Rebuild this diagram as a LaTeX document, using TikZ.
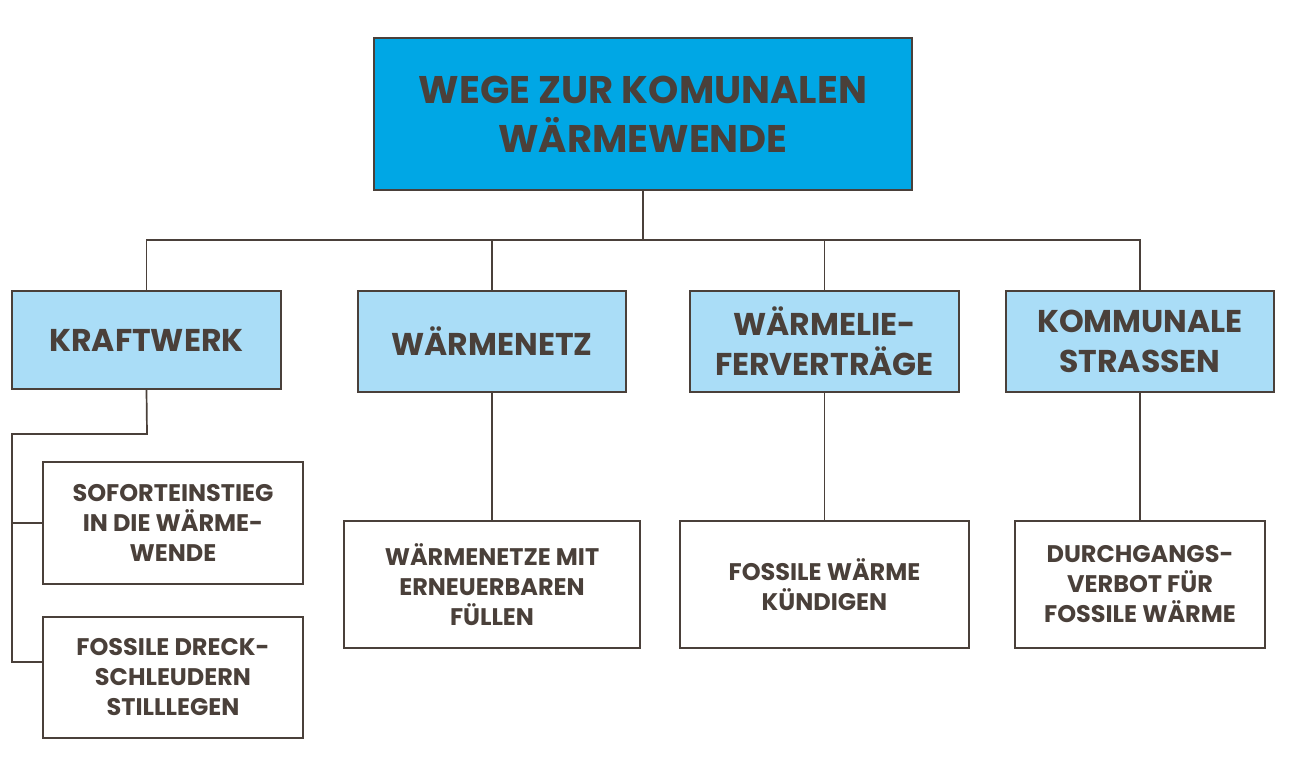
\documentclass[tikz,border=0pt]{standalone}
\usepackage{fontspec}
\setmainfont{Poppins}
\definecolor{ink}{HTML}{4A403A}
\definecolor{topblue}{HTML}{00A7E5}
\definecolor{lightblue}{HTML}{AADDF7}
\begin{document}
\begin{tikzpicture}[x=1pt,y=-1pt,
  box/.style={draw=ink,line width=1.7pt,text=ink,align=center,inner sep=0pt},
  topbox/.style={box,fill=topblue,font=\bfseries\fontsize{38.5}{49}\selectfont},
  midbox/.style={box,fill=lightblue,font=\bfseries\fontsize{31.5}{40}\selectfont},
  leafbox/.style={box,fill=white,font=\bfseries\fontsize{24}{30}\selectfont},
  conn/.style={draw=ink,line width=1.7pt}]
\useasboundingbox (0,0) rectangle (1290,757);
\node[topbox,minimum width=538pt,minimum height=152pt] (top) at (643,114) {WEGE ZUR KOMUNALEN\\WÄRMEWENDE};
\node[midbox,minimum width=269pt,minimum height=98pt] (kw) at (146.5,340) {KRAFTWERK};
\node[midbox,minimum width=268pt,minimum height=101pt] (wn) at (492,341.5) {WÄRMENETZ};
\node[midbox,minimum width=269pt,minimum height=101pt] (wl) at (824.5,341.5) {WÄRMELIE-\\FERVERTRÄGE};
\node[midbox,minimum width=268pt,minimum height=101pt] (ks) at (1140,341.5) {KOMMUNALE\\STRASSEN};
\node[leafbox,minimum width=260pt,minimum height=122pt] (so) at (173,523) {SOFORTEINSTIEG\\IN DIE WÄRME-\\WENDE};
\node[leafbox,minimum width=260pt,minimum height=121pt] (fd) at (173,677.5) {FOSSILE DRECK-\\SCHLEUDERN\\STILLLEGEN};
\node[leafbox,minimum width=296pt,minimum height=127pt] (we) at (492,584.5) {WÄRMENETZE MIT\\ERNEUERBAREN\\FÜLLEN};
\node[leafbox,minimum width=289pt,minimum height=127pt] (fw) at (824.5,584.5) {FOSSILE WÄRME\\KÜNDIGEN};
\node[leafbox,minimum width=250pt,minimum height=127pt] (dv) at (1140,584.5) {DURCHGANGS-\\VERBOT FÜR\\FOSSILE WÄRME};
\coordinate (bus) at (643,240);
\coordinate (kwbend) at (147,434);
\coordinate (rail) at (12,434);
\coordinate (railend) at (12,662);
\coordinate (fdin) at (43,662);
\draw[conn] (top.south) -- (bus);
\draw[conn] (kw.north) |- (bus) -| (ks.north);
\draw[conn] (wn.north) -- (wn.north |- bus);
\draw[conn] (wl.north) -- (wl.north |- bus);
\draw[conn] (kw.south) -- (kwbend) -- (rail) -- (railend) -- (fdin);
\draw[conn] (rail |- so.west) -- (so.west);
\draw[conn] (wn.south) -- (we.north);
\draw[conn] (wl.south) -- (fw.north);
\draw[conn] (ks.south) -- (dv.north);
\end{tikzpicture}
\end{document}
